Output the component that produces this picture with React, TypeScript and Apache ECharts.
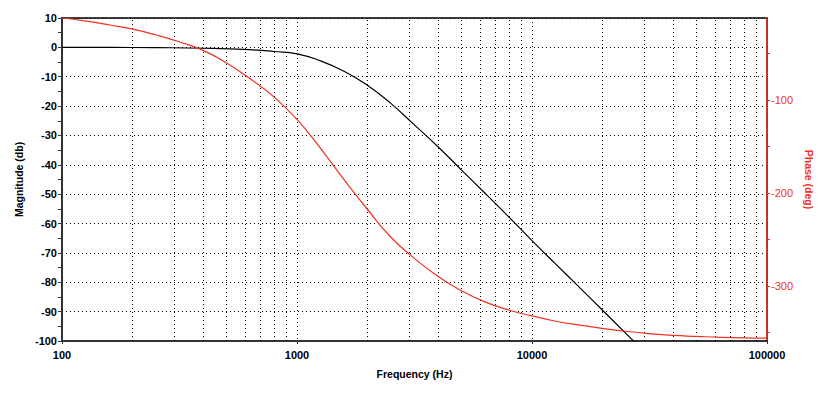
import React, { useEffect, useRef } from "react";
import * as echarts from "echarts";

// Magnitude response (Hz, dB)
const magFreq = [100, 160, 250, 400, 630, 800, 1000, 1250, 1600, 2000, 2500, 3150, 4000, 5000, 6300, 8000, 10000, 12500, 16000, 20000, 25000, 31600];
const magDb = [0, -0.02, -0.1, -0.3, -0.8, -1.4, -2.2, -4.5, -8.3, -13.0, -19.0, -26.3, -34, -41.7, -49.6, -57.9, -65.8, -73.5, -81.9, -89.6, -97.3, -105.3];

// Phase response (Hz, deg)
const phaseFreq = [100, 125, 160, 200, 250, 315, 400, 500, 630, 800, 1000, 1250, 1600, 2000, 2500, 3150, 4000, 5000, 6300, 8000, 10000, 12500, 16000, 20000, 25000, 31600, 40000, 50000, 63000, 80000, 100000];
const phaseDeg = [-12, -15, -19.5, -24, -30, -37.5, -47, -60, -77, -97, -121, -151, -187, -218, -247, -270, -290, -305, -317, -326, -332, -337.5, -342, -345.5, -348.5, -351, -353, -354, -355, -355.7, -356];

// Axis ticks
const minorFreqGrid = [200, 300, 400, 500, 600, 700, 800, 900, 2000, 3000, 4000, 5000, 6000, 7000, 8000, 9000, 20000, 30000, 40000, 50000, 60000, 70000, 80000, 90000];
const phaseTicks = [-350, -300, -250, -200, -150, -100, -50];
const phaseLabels = [-300, -200, -100];

const RED = "#ee3322";
const FONT = "'Liberation Sans', Arial, sans-serif";
const DOT: any = [1, 3];

export default function App() {
  const ref = useRef<HTMLDivElement>(null);
  useEffect(() => {
    if (!ref.current) return;
    const chart = echarts.init(ref.current, undefined, { renderer: "svg" });
    chart.setOption({
      animation: false,
      backgroundColor: "#ffffff",
      grid: {
        left: 62,
        right: 60,
        top: 18,
        bottom: 56,
        show: true,
        borderColor: "#000",
        borderWidth: 1.5,
        backgroundColor: "transparent",
      },
      xAxis: {
        type: "log",
        logBase: 10,
        min: 100,
        max: 100000,
        name: "Frequency (Hz)",
        nameLocation: "middle",
        nameGap: 27,
        nameTextStyle: { fontFamily: FONT, fontWeight: "bold", fontSize: 10.5, color: "#000" },
        axisLine: { show: true, onZero: false, lineStyle: { color: "#333", width: 2 } },
        axisTick: { show: true, length: 3, lineStyle: { color: "#333" } },
        axisLabel: {
          fontFamily: FONT,
          fontWeight: "bold",
          fontSize: 11,
          color: "#000",
          margin: 8,
          formatter: (v: number) => String(Math.round(v)),
        },
        splitLine: { show: true, lineStyle: { color: "#000", type: DOT, width: 1 } },
        minorTick: { show: false },
      },
      yAxis: [
        {
          type: "value",
          min: -100,
          max: 10,
          interval: 10,
          position: "left",
          name: "Magnitude (db)",
          nameLocation: "middle",
          nameGap: 31,
          nameTextStyle: { fontFamily: FONT, fontWeight: "bold", fontSize: 10.5, color: "#000" },
          axisLine: { show: true, onZero: false, lineStyle: { color: "#333", width: 2 } },
          axisTick: { show: true, length: 4, lineStyle: { color: "#333" } },
          minorTick: { show: true, splitNumber: 2, length: 4, lineStyle: { color: "#333" } },
          axisLabel: { fontFamily: FONT, fontWeight: "bold", fontSize: 11, color: "#000", margin: 5 },
          splitLine: { show: true, lineStyle: { color: "#000", type: DOT, width: 1 } },
        },
        {
          type: "value",
          min: -359,
          max: -12,
          position: "right",
          name: "Phase (deg)",
          nameLocation: "middle",
          nameRotate: -90,
          nameGap: 30,
          nameTextStyle: { fontFamily: FONT, fontWeight: "bold", fontSize: 10.5, color: RED },
          axisLine: { show: true, onZero: false, lineStyle: { color: RED, width: 1.5 } },
          axisTick: { show: true, length: 3, customValues: phaseTicks, lineStyle: { color: RED } },
          axisLabel: {
            fontFamily: FONT,
            fontSize: 11,
            color: RED,
            margin: 4,
            customValues: phaseLabels,
          },
          splitLine: { show: false },
        },
      ],
      series: [
        {
          type: "line",
          name: "Magnitude",
          yAxisIndex: 0,
          data: magFreq.map((f, i) => [f, magDb[i]]),
          showSymbol: false,
          smooth: 0.5,
          lineStyle: { color: "#000", width: 1.2 },
          z: 5,
          markLine: {
            silent: true,
            symbol: ["none", "none"],
            label: { show: false },
            lineStyle: { color: "#000", type: DOT, width: 1 },
            data: minorFreqGrid.map((f) => ({ xAxis: f })),
            z: 1,
          },
        },
        {
          type: "line",
          name: "Phase",
          yAxisIndex: 1,
          data: phaseFreq.map((f, i) => [f, phaseDeg[i]]),
          showSymbol: false,
          smooth: 0.5,
          lineStyle: { color: RED, width: 1.2 },
          z: 6,
        },
      ],
    });
    return () => chart.dispose();
  }, []);
  return (
    <div
      ref={ref}
      style={{ position: "fixed", left: 0, top: 0, width: 827, height: 397, background: "#fff" }}
    />
  );
}
